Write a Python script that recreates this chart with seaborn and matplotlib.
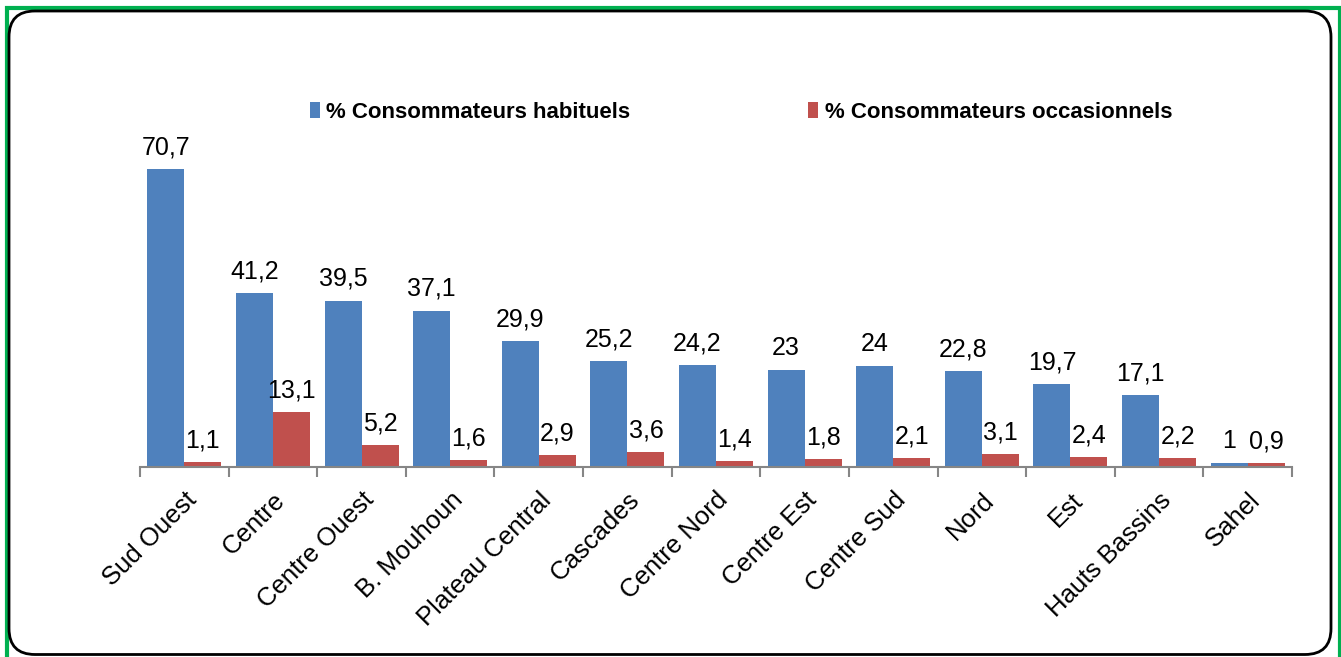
import matplotlib
matplotlib.use("Agg")
import matplotlib.pyplot as plt
from matplotlib.patches import FancyBboxPatch, Rectangle, Patch
import seaborn as sns
import pandas as pd
import numpy as np

regions = ["Sud Ouest", "Centre", "Centre Ouest", "B. Mouhoun", "Plateau Central",
           "Cascades", "Centre Nord", "Centre Est", "Centre Sud", "Nord", "Est",
           "Hauts Bassins", "Sahel"]
habituels = [70.7, 41.2, 39.5, 37.1, 29.9, 25.2, 24.2, 23, 24, 22.8, 19.7, 17.1, 1]
occasionnels = [1.1, 13.1, 5.2, 1.6, 2.9, 3.6, 1.4, 1.8, 2.1, 3.1, 2.4, 2.2, 0.9]
series = ["% Consommateurs habituels", "% Consommateurs occasionnels"]
colors = ["#4F81BD", "#C0504D"]

df = pd.DataFrame({
    "Région": regions * 2,
    "Valeur": habituels + occasionnels,
    "Série": [series[0]] * len(regions) + [series[1]] * len(regions),
})

sns.set_theme(style="white")
plt.rcParams["font.family"] = ["Liberation Sans", "DejaVu Sans"]
plt.rcParams["text.color"] = "black"
plt.rcParams["xtick.labelcolor"] = "black"

W, H = 1341, 657
fig = plt.figure(figsize=(W / 100, H / 100), dpi=100)
ax_left, ax_right, ax_bottom_px, ax_top_px = 140, 1292, 467, 130
ax = fig.add_axes([ax_left / W, (H - ax_bottom_px) / H,
                   (ax_right - ax_left) / W, (ax_bottom_px - ax_top_px) / H])

sns.barplot(data=df, x="Région", y="Valeur", hue="Série", palette=colors,
            width=0.835, saturation=1, gap=0, ax=ax, legend=False,
            edgecolor="none", linewidth=0)

ax.set_ylim(0, 80)
ax.set_xlim(-0.5, len(regions) - 0.5)
ax.set_xlabel("")
ax.set_ylabel("")
ax.set_yticks([])
for s in ["top", "right", "left"]:
    ax.spines[s].set_visible(False)
ax.spines["bottom"].set_color("#868686")
ax.spines["bottom"].set_linewidth(1.5)

ax.set_xticks(range(len(regions)))
ax.set_xticklabels(regions, rotation=45, ha="right", rotation_mode="anchor",
                   fontsize=18.5, color="black")
ax.tick_params(axis="x", which="major", length=0, pad=15, labelcolor="black")
ax.set_xticks(np.arange(-0.5, len(regions), 1.0), minor=True)
ax.tick_params(axis="x", which="minor", length=7, width=1.5, color="#868686", bottom=True)

def fmt(v):
    return f"{v:g}".replace(".", ",")

for cont, vals in zip(ax.containers, [habituels, occasionnels]):
    ax.bar_label(cont, labels=[fmt(v) for v in vals], padding=7, fontsize=18, color="black")

handles = [Patch(facecolor=c, edgecolor="none") for c in colors]
leg = fig.legend(handles, series, loc="center", bbox_to_anchor=(741 / W, 1 - 112 / H),
                 ncol=2, frameon=False, columnspacing=8.0, handlelength=0.45,
                 handleheight=0.75, handletextpad=0.3,
                 prop={"family": ["Liberation Sans Narrow", "Liberation Sans", "DejaVu Sans"],
                       "weight": "bold", "size": 16})
for t in leg.get_texts():
    t.set_color("black")

# green outer frame (bottom edge outside the image)
fig.patches.append(Rectangle((6.5 / W, -10 / H), (W - 8) / W, (H + 10 - 7.5) / H,
                             transform=fig.transFigure, fill=False,
                             edgecolor="#00B050", linewidth=3))
# black rounded frame (in inches)
fig.patches.append(FancyBboxPatch((9 / 100, 2.5 / 100), (1331 - 9) / 100, (H - 11 - 2.5) / 100,
                                  boxstyle="round,pad=0,rounding_size=0.26",
                                  transform=fig.dpi_scale_trans, fill=False,
                                  edgecolor="black", linewidth=2))

fig.savefig("out.png", dpi=100)
